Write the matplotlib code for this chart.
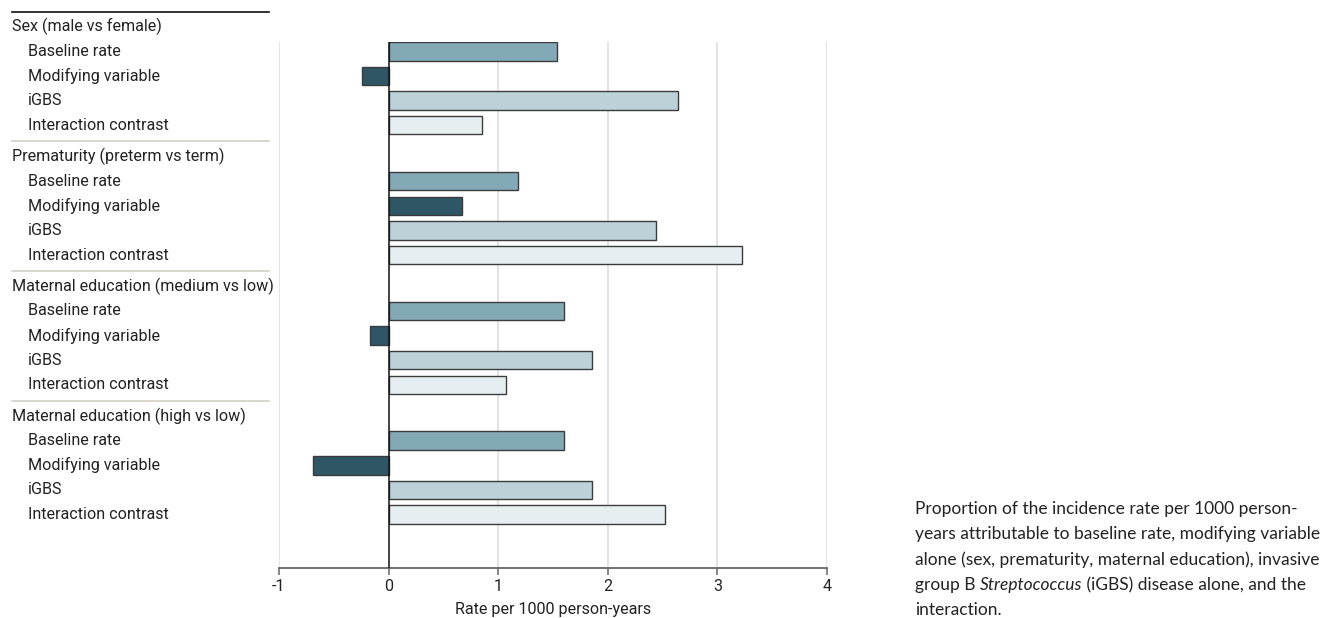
import matplotlib
matplotlib.use("Agg")
import matplotlib.pyplot as plt
from matplotlib import transforms
from matplotlib.lines import Line2D

# Data: rate per 1000 person-years attributable to each component
groups = [
    "Sex (male vs female)",
    "Prematurity (preterm vs term)",
    "Maternal education (medium vs low)",
    "Maternal education (high vs low)",
]
components = ["Baseline rate", "Modifying variable", "iGBS", "Interaction contrast"]
baseline_rate = [1.54, 1.18, 1.60, 1.60]
modifying_variable = [-0.24, 0.67, -0.17, -0.69]
igbs = [2.64, 2.44, 1.86, 1.86]
interaction_contrast = [0.85, 3.22, 1.07, 2.52]

x_ticks = [-1, 0, 1, 2, 3, 4]
x_tick_labels = ["-1", "0", "1", "2", "3", "4"]
x_label = "Rate per 1000 person-years"
# Each caption line is a list of (text, italic) pieces
caption_lines = [
    [("Proportion of the incidence rate per 1000 person-", False)],
    [("years attributable to baseline rate, modifying variable", False)],
    [("alone (sex, prematurity, maternal education), invasive", False)],
    [("group B ", False), ("Streptococcus", True),
     (" (iGBS) disease alone, and the", False)],
    [("interaction.", False)],
]

series = [baseline_rate, modifying_variable, igbs, interaction_contrast]
colors = ["#84a9b6", "#2e5664", "#bdd1d9", "#e6eef1"]

W, H = 1341, 618
fig = plt.figure(figsize=(W / 100, H / 100), dpi=100)
label_font = ["Roboto", "DejaVu Sans"]
caption_font = ["Lato", "DejaVu Sans"]
label_size = 11.6

ax_left, ax_right, ax_top, ax_bottom = 279, 827, 42, 568
ax = fig.add_axes([ax_left / W, 1 - ax_bottom / H,
                   (ax_right - ax_left) / W, (ax_bottom - ax_top) / H])

group_stride = 5.27
bar_h = 0.75
for g in range(len(groups)):
    for r, vals in enumerate(series):
        y = g * group_stride + r
        ax.barh(y, vals[g], height=bar_h, color=colors[r],
                edgecolor="#3c3c3c", linewidth=1.0, zorder=3)

last_y = (len(groups) - 1) * group_stride + 3
ax.set_ylim(last_y + 2.17, -0.38)
ax.set_xlim(-1, 4)

# Grid and zero line
for xv in x_ticks:
    if xv == 0:
        ax.axvline(0, color="#111111", lw=1.1, zorder=4)
    else:
        ax.axvline(xv, color="#e0e0e0", lw=1.3, zorder=1)

for s in ["top", "right", "left"]:
    ax.spines[s].set_visible(False)
ax.spines["bottom"].set_color("#666666")
ax.spines["bottom"].set_linewidth(1.3)
ax.set_yticks([])
ax.set_xticks(x_ticks)
ax.set_xticklabels(x_tick_labels, family=label_font, fontsize=label_size, color="#222222")
ax.tick_params(axis="x", length=5, width=1.1, color="#666666", pad=3)
ax.set_xlabel(x_label, family=label_font, fontsize=label_size, color="#222222", labelpad=6)

# Row labels to the left of the plot
trans = transforms.blended_transform_factory(fig.transFigure, ax.transData)
for g, name in enumerate(groups):
    y0 = g * group_stride
    ax.text(12 / W, y0 - 1, name, transform=trans, ha="left", va="center",
            family=label_font, fontsize=label_size, color="#222222", clip_on=False)
    for r, comp in enumerate(components):
        ax.text(28 / W, y0 + r, comp, transform=trans, ha="left", va="center",
                family=label_font, fontsize=label_size, color="#222222", clip_on=False)
    line_y = y0 - 1.61
    ax.add_line(Line2D([12 / W, 269 / W], [line_y, line_y], transform=trans,
                       color="#111111" if g == 0 else "#d3d0c8",
                       lw=1.2, clip_on=False))

# Caption, with the genus name set in italics
renderer = fig.canvas.get_renderer()
for i, pieces in enumerate(caption_lines):
    x_px = 915
    y_fig = 1 - (509 + i * 25.3) / H
    for text, italic in pieces:
        t = fig.text(x_px / W, y_fig, text, ha="left", va="center",
                     family=caption_font, fontsize=12.5, color="#222222",
                     style="italic" if italic else "normal")
        x_px += t.get_window_extent(renderer).width

fig.savefig("out.png", dpi=100)
